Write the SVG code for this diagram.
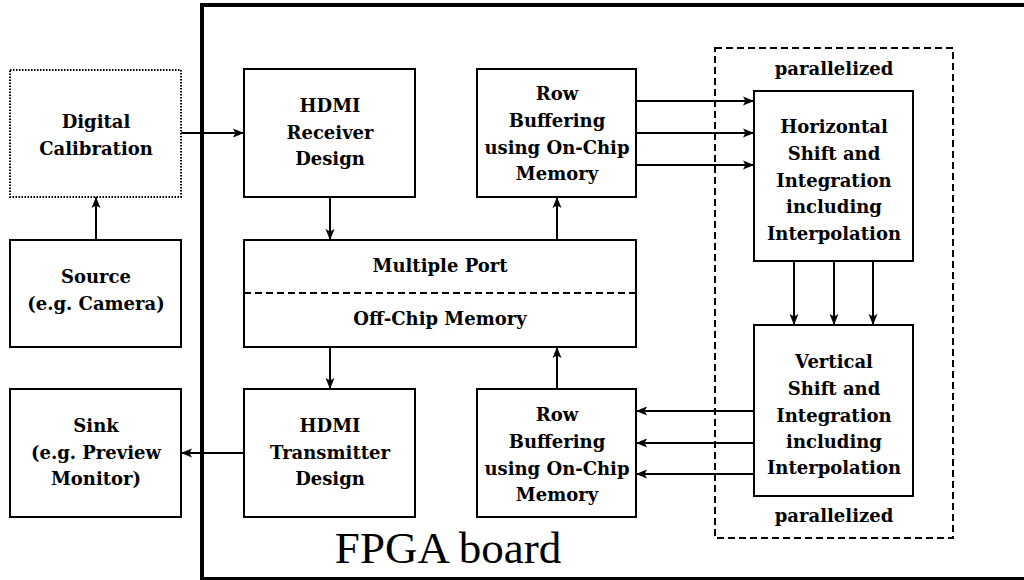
<svg xmlns="http://www.w3.org/2000/svg" width="1024" height="580" viewBox="0 0 1024 580">
<style>
.box{fill:none;stroke:#000;stroke-width:2}
.dot{fill:none;stroke:#000;stroke-width:2;stroke-dasharray:1.5 1.5}
.dash{fill:none;stroke:#000;stroke-width:2;stroke-dasharray:7 4}
.ln{stroke:#000;stroke-width:2;fill:none;marker-end:url(#ah)}
text{font-family:"DejaVu Serif",serif;font-weight:700;font-size:18px;text-anchor:middle;fill:#000}
.big{font-family:"Liberation Serif",serif;font-weight:400;font-size:45px}
</style>
<defs>
<marker id="ah" markerWidth="12" markerHeight="10" refX="11" refY="5" orient="auto" markerUnits="userSpaceOnUse"><path d="M0,0.5 L11,5 L0,9.5 L2.5,5 z" fill="#000"/></marker>
</defs>
<rect width="1024" height="580" fill="#fff"/>
<g id="fpga">
<rect x="202" y="5" width="900" height="574" fill="none" stroke="#000" stroke-width="4"/>
<text class="big" x="448" y="563">FPGA board</text>
</g>
<g id="parallel">
<rect class="dash" x="715" y="48" width="238" height="490"/>
<text x="834" y="75">parallelized</text>
<text x="834" y="522">parallelized</text>
</g>
<g id="digcal">
<rect class="dot" x="10" y="70" width="171" height="127"/>
<text x="96" y="128">Digital</text>
<text x="96" y="155">Calibration</text>
</g>
<g id="source">
<rect class="box" x="10" y="240" width="171" height="107"/>
<text x="96" y="283">Source</text>
<text x="96" y="310">(e.g. Camera)</text>
</g>
<g id="sink">
<rect class="box" x="10" y="389" width="171" height="128"/>
<text x="96" y="432">Sink</text>
<text x="96" y="459">(e.g. Preview</text>
<text x="96" y="485">Monitor)</text>
</g>
<g id="hdmirx">
<rect class="box" x="244" y="69" width="171" height="128"/>
<text x="330" y="112">HDMI</text>
<text x="330" y="139">Receiver</text>
<text x="330" y="165">Design</text>
</g>
<g id="hdmitx">
<rect class="box" x="244" y="389" width="171" height="128"/>
<text x="330" y="432">HDMI</text>
<text x="330" y="459">Transmitter</text>
<text x="330" y="485">Design</text>
</g>
<g id="mem">
<rect class="box" x="244" y="240" width="392" height="107"/>
<line class="dash" x1="244" y1="293" x2="636" y2="293"/>
<text x="440" y="272">Multiple Port</text>
<text x="440" y="325">Off-Chip Memory</text>
</g>
<g id="rowtop">
<rect class="box" x="477" y="69" width="159" height="128"/>
<text x="557" y="100">Row</text>
<text x="557" y="127">Buffering</text>
<text x="557" y="154">using On-Chip</text>
<text x="557" y="180">Memory</text>
</g>
<g id="rowbot">
<rect class="box" x="477" y="389" width="159" height="128"/>
<text x="557" y="421">Row</text>
<text x="557" y="448">Buffering</text>
<text x="557" y="475">using On-Chip</text>
<text x="557" y="501">Memory</text>
</g>
<g id="horiz">
<rect class="box" x="754" y="91" width="159" height="170"/>
<text x="834" y="133">Horizontal</text>
<text x="834" y="160">Shift and</text>
<text x="834" y="187">Integration</text>
<text x="834" y="213">including</text>
<text x="834" y="240">Interpolation</text>
</g>
<g id="vert">
<rect class="box" x="754" y="325" width="159" height="171"/>
<text x="834" y="368">Vertical</text>
<text x="834" y="395">Shift and</text>
<text x="834" y="422">Integration</text>
<text x="834" y="448">including</text>
<text x="834" y="474">Interpolation</text>
</g>
<g id="connectors">
<line class="ln" x1="181" y1="133" x2="244" y2="133"/>
<line class="ln" x1="96" y1="240" x2="96" y2="197"/>
<line class="ln" x1="244" y1="453" x2="181" y2="453"/>
<line class="ln" x1="330" y1="197" x2="330" y2="240"/>
<line class="ln" x1="330" y1="347" x2="330" y2="389"/>
<line class="ln" x1="557" y1="240" x2="557" y2="197"/>
<line class="ln" x1="557" y1="389" x2="557" y2="347"/>
<line class="ln" x1="636" y1="101" x2="754" y2="101"/>
<line class="ln" x1="636" y1="133" x2="754" y2="133"/>
<line class="ln" x1="636" y1="165" x2="754" y2="165"/>
<line class="ln" x1="794" y1="261" x2="794" y2="325"/>
<line class="ln" x1="834" y1="261" x2="834" y2="325"/>
<line class="ln" x1="873" y1="261" x2="873" y2="325"/>
<line class="ln" x1="754" y1="411" x2="636" y2="411"/>
<line class="ln" x1="754" y1="443" x2="636" y2="443"/>
<line class="ln" x1="754" y1="474" x2="636" y2="474"/>
</g>
</svg>
